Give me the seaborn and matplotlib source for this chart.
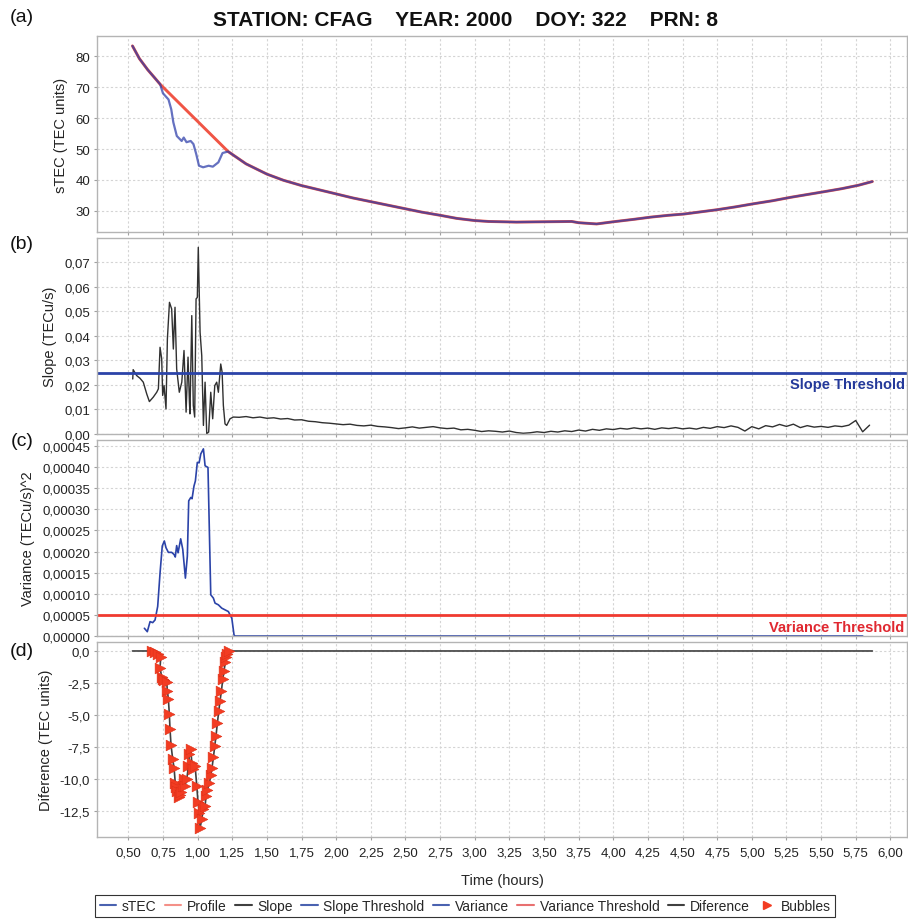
import matplotlib
matplotlib.use('Agg')
import matplotlib.pyplot as plt
import matplotlib.transforms as mtransforms
from matplotlib.lines import Line2D
from matplotlib.ticker import FuncFormatter, MultipleLocator
import numpy as np
import seaborn as sns

# ---- data ----
STEC_T = [0.53, 0.58, 0.64, 0.69, 0.73, 0.75, 0.79, 0.81, 0.825, 0.85, 0.885, 0.90,
          0.92, 0.95, 0.97, 0.99, 1.01, 1.04, 1.08, 1.11, 1.15, 1.18, 1.22, 1.35,
          1.50, 1.62, 1.75, 1.88, 2.00, 2.12, 2.25, 2.38, 2.50, 2.62, 2.75, 2.87,
          3.00, 3.10, 3.30, 3.50, 3.70, 3.75, 3.88, 4.00, 4.15, 4.27, 4.40, 4.51,
          4.63, 4.75, 4.88, 5.01, 5.15, 5.28, 5.40, 5.52, 5.65, 5.77, 5.87]
STEC_V = [83.3, 79.2, 75.6, 73.0, 70.9, 68.0, 66.0, 62.8, 58.6, 54.2, 52.6, 53.7,
          52.2, 52.6, 51.6, 48.4, 44.6, 44.1, 44.6, 44.3, 45.7, 48.7, 49.2, 45.2,
          41.9, 39.9, 38.2, 36.8, 35.5, 34.2, 33.0, 31.8, 30.7, 29.6, 28.6, 27.6,
          26.9, 26.6, 26.4, 26.5, 26.6, 26.2, 25.8, 26.5, 27.3, 28.0, 28.6, 29.0,
          29.7, 30.4, 31.3, 32.3, 33.3, 34.4, 35.3, 36.2, 37.2, 38.3, 39.5]
# profile bridges the bubble between these two times
PROFILE_START, PROFILE_END = 0.73, 1.22

SLOPE_T = [0.532, 0.535, 0.56, 0.584, 0.608, 0.633, 0.652, 0.68, 0.705, 0.717,
           0.729, 0.741, 0.748, 0.758, 0.772, 0.782, 0.797, 0.813, 0.825, 0.837,
           0.849, 0.868, 0.886, 0.902, 0.917, 0.931, 0.941, 0.945, 0.958, 0.969,
           0.979, 0.989, 0.998, 1.005, 1.018, 1.03, 1.042, 1.054, 1.066, 1.08,
           1.095, 1.109, 1.124, 1.138, 1.15, 1.167, 1.177, 1.186, 1.198, 1.21,
           1.234, 1.258]
SLOPE_V = [0.0224, 0.0262, 0.0238, 0.0227, 0.0211, 0.0163, 0.0132, 0.0150, 0.0170, 0.0184,
           0.0353, 0.0306, 0.0157, 0.0197, 0.0102, 0.0387, 0.0536, 0.0509, 0.0346, 0.0516,
           0.0265, 0.0170, 0.0211, 0.0340, 0.0089, 0.0313, 0.0130, 0.0082, 0.0482, 0.0116,
           0.0069, 0.0550, 0.0556, 0.0760, 0.0414, 0.0319, 0.0035, 0.0211, 0.0001, 0.0008,
           0.0170, 0.0062, 0.0197, 0.0211, 0.0170, 0.0285, 0.0252, 0.0116, 0.0041, 0.0035,
           0.0062, 0.0069]
# quiet tail, sampled every 0.05 h from 1.30 h
SLOPE_TAIL_V = [0.0068, 0.0071, 0.0066, 0.0069, 0.0064, 0.0066, 0.0061, 0.0063, 0.0057, 0.0058,
                0.0052, 0.0050, 0.0046, 0.0044, 0.0041, 0.0038, 0.0040, 0.0035, 0.0033, 0.0036,
                0.0031, 0.0029, 0.0026, 0.0022, 0.0025, 0.0029, 0.0024, 0.0027, 0.0030, 0.0025,
                0.0022, 0.0024, 0.0017, 0.0019, 0.0015, 0.0010, 0.0013, 0.0011, 0.0008, 0.0012,
                0.0006, 0.0003, 0.0005, 0.0009, 0.0006, 0.0011, 0.0008, 0.0013, 0.0010, 0.0016,
                0.0012, 0.0019, 0.0015, 0.0021, 0.0018, 0.0023, 0.0020, 0.0025, 0.0021, 0.0024,
                0.0019, 0.0025, 0.0022, 0.0026, 0.0021, 0.0024, 0.0020, 0.0027, 0.0023, 0.0030,
                0.0026, 0.0033, 0.0027, 0.0012, 0.0030, 0.0021, 0.0034, 0.0029, 0.0039, 0.0031,
                0.0040, 0.0026, 0.0034, 0.0028, 0.0031, 0.0027, 0.0033, 0.0030, 0.0036, 0.0055,
                0.0009, 0.0036]
SLOPE_THRESHOLD = 0.025

VAR_T = [0.616, 0.637, 0.657, 0.676, 0.693, 0.712, 0.729, 0.745, 0.76, 0.772, 0.789,
         0.813, 0.83, 0.839, 0.849, 0.859, 0.878, 0.893, 0.912, 0.926, 0.936, 0.951,
         0.96, 0.974, 0.984, 0.998, 1.011, 1.023, 1.042, 1.054, 1.075, 1.095, 1.114,
         1.126, 1.15, 1.174, 1.198, 1.222, 1.247, 1.263, 1.27, 5.80]
VAR_V = [0.0000183, 0.0000102, 0.000034, 0.0000317, 0.000038, 0.00007, 0.000149, 0.000213,
         0.000225, 0.000209, 0.000198, 0.000198, 0.000193, 0.000187, 0.000214, 0.000197,
         0.00023, 0.000205, 0.000137, 0.000189, 0.00032, 0.000328, 0.000325, 0.000355,
         0.000367, 0.000411, 0.00041, 0.000431, 0.000443, 0.000403, 0.000399, 0.0000976,
         0.0000897, 0.0000778, 0.0000738, 0.000066, 0.0000619, 0.0000579, 0.000042,
         0.0000024, 0.0, 0.0]
VAR_THRESHOLD = 0.00005

BUB_T = [0.669, 0.693, 0.717, 0.734, 0.729, 0.741, 0.750, 0.758, 0.777, 0.782, 0.789,
         0.796, 0.801, 0.808, 0.820, 0.830, 0.839, 0.846, 0.854, 0.864, 0.870, 0.878,
         0.893, 0.902, 0.909, 0.922, 0.934, 0.941, 0.951, 0.958, 0.970, 0.982, 0.994,
         1.003, 1.013, 1.018, 1.030, 1.042, 1.054, 1.061, 1.071, 1.085, 1.095, 1.104,
         1.114, 1.124, 1.133, 1.143, 1.153, 1.162, 1.172, 1.182, 1.191, 1.200, 1.208,
         1.215, 1.229]
BUB_V = [0.0, -0.05, -0.23, -0.5, -1.3, -2.05, -2.2, -2.3, -2.45, -3.1, -3.75,
         -4.9, -6.1, -7.3, -8.4, -9.1, -10.3, -10.6, -10.9, -11.4, -11.2, -11.0,
         -10.5, -10.0, -10.5, -10.0, -8.96, -8.05, -7.65, -8.7, -9.2, -8.96, -10.5,
         -11.8, -12.6, -13.8, -13.1, -12.3, -12.1, -11.3, -10.8, -10.3, -9.7, -9.1,
         -8.3, -7.4, -6.6, -5.6, -4.66, -3.88, -3.1, -2.19, -1.54, -0.89, -0.5,
         -0.23, 0.0]
DIFF_START, DIFF_END = 0.53, 5.87

TITLE = 'STATION: CFAG    YEAR: 2000    DOY: 322    PRN: 8'

BLUE = '#2b43a8'
RED = '#f03a30'
DARK = '#303030'

sns.set_theme(style='whitegrid')
plt.rcParams['font.family'] = ['Liberation Sans', 'DejaVu Sans']

fig = plt.figure(figsize=(9.08, 9.2), dpi=100)
W, H = 908.0, 920.0


def add_panel(top, bottom):
    return fig.add_axes([97 / W, 1 - bottom / H, 810 / W, (bottom - top) / H])


ax_a = add_panel(37, 233)
ax_b = add_panel(239, 435)
ax_c = add_panel(441, 637)
ax_d = add_panel(643, 838)
axes = [ax_a, ax_b, ax_c, ax_d]

# (a) sTEC and profile
stec_t = np.array(STEC_T)
stec_v = np.array(STEC_V)
keep = (stec_t <= PROFILE_START) | (stec_t >= PROFILE_END)
sns.lineplot(x=stec_t[keep], y=stec_v[keep], ax=ax_a, color='#f05545', linewidth=2.1,
             estimator=None, sort=False)
sns.lineplot(x=stec_t, y=stec_v, ax=ax_a, color='#2a3aa8', linewidth=1.6, alpha=0.72,
             estimator=None, sort=False)
ax_a.set_ylim(23.2, 86.5)
ax_a.yaxis.set_major_locator(MultipleLocator(10))
ax_a.set_ylabel('sTEC (TEC units)')

# (b) slope
tail_t = np.round(1.30 + 0.05 * np.arange(len(SLOPE_TAIL_V)), 2)
slope_t = np.concatenate([SLOPE_T, tail_t])
slope_v = np.concatenate([SLOPE_V, SLOPE_TAIL_V])
sns.lineplot(x=slope_t, y=slope_v, ax=ax_b, color=DARK, linewidth=1.0,
             estimator=None, sort=False)
ax_b.axhline(SLOPE_THRESHOLD, color=BLUE, linewidth=2.0)
ax_b.text(0.997, SLOPE_THRESHOLD - 0.0047, 'Slope Threshold', color='#24399a',
          fontweight='bold', fontsize=10.5, ha='right', va='center',
          transform=mtransforms.blended_transform_factory(ax_b.transAxes, ax_b.transData))
ax_b.set_ylim(0, 0.0798)
ax_b.yaxis.set_major_locator(MultipleLocator(0.01))
ax_b.yaxis.set_major_formatter(FuncFormatter(lambda v, p: f'{v:.2f}'.replace('.', ',')))
ax_b.set_ylabel('Slope (TECu/s)')

# (c) variance
sns.lineplot(x=VAR_T, y=VAR_V, ax=ax_c, color=BLUE, linewidth=1.2,
             estimator=None, sort=False, clip_on=False)
ax_c.axhline(VAR_THRESHOLD, color=RED, linewidth=2.0)
ax_c.text(0.997, VAR_THRESHOLD - 0.0000285, 'Variance Threshold', color='#e02830',
          fontweight='bold', fontsize=10.5, ha='right', va='center',
          transform=mtransforms.blended_transform_factory(ax_c.transAxes, ax_c.transData))
ax_c.set_ylim(0, 0.000464)
ax_c.yaxis.set_major_locator(MultipleLocator(0.00005))
ax_c.yaxis.set_major_formatter(FuncFormatter(lambda v, p: f'{v:.5f}'.replace('.', ',')))
ax_c.set_ylabel('Variance (TECu/s)^2')

# (d) difference and bubbles
diff_t = np.concatenate([[DIFF_START], BUB_T, [DIFF_END]])
diff_v = np.concatenate([[0.0], BUB_V, [0.0]])
sns.lineplot(x=diff_t, y=diff_v, ax=ax_d, color='#404040', linewidth=1.2,
             estimator=None, sort=False)
sns.scatterplot(x=BUB_T, y=BUB_V, ax=ax_d, marker='>', s=60, color='#f23c22',
                edgecolor='#e03018', linewidth=0.4, zorder=5)
ax_d.set_ylim(-14.5, 0.7)
ax_d.yaxis.set_major_locator(MultipleLocator(2.5))
ax_d.yaxis.set_major_formatter(FuncFormatter(lambda v, p: f'{v:.1f}'.replace('.', ',')))
ax_d.set_ylabel('Diference (TEC units)')
ax_d.set_xlabel('Time (hours)', fontsize=10.5, labelpad=10)

for ax in axes:
    ax.set_xlim(0.274, 6.12)
    ax.xaxis.set_major_locator(MultipleLocator(0.25))
    ax.set_facecolor('white')
    ax.grid(True, linestyle=(0, (2, 2)), color='#d4d4d4', linewidth=0.8)
    for s in ax.spines.values():
        s.set_color('#b4b4b4')
        s.set_linewidth(1.0)
    ax.tick_params(axis='both', length=2, width=0.8, color='#a0a0a0', labelsize=9.5,
                   labelcolor='#222222', pad=3, left=True, bottom=True)
    ax.yaxis.label.set_size(10.5)
    ax.yaxis.label.set_color('#222222')
    ax.yaxis.labelpad = 5
    if ax is not ax_d:
        ax.tick_params(axis='x', labelbottom=False)
ax_d.xaxis.set_major_formatter(FuncFormatter(lambda v, p: f'{v:.2f}'.replace('.', ',')))
ax_d.tick_params(axis='x', pad=5)

fig.text(465 / W, 1 - 20 / H, TITLE, ha='center', va='center', fontsize=15,
         fontweight='bold', color='#111111')
for lab, y in [('(a)', 18), ('(b)', 245), ('(c)', 442), ('(d)', 652)]:
    fig.text(22 / W, 1 - y / H, lab, ha='center', va='center', fontsize=14, color='#111111')

handles = [
    Line2D([], [], color='#4a62b0', lw=1.5),
    Line2D([], [], color='#f49088', lw=1.5),
    Line2D([], [], color='#404040', lw=1.5),
    Line2D([], [], color='#4a62b0', lw=1.5),
    Line2D([], [], color='#4a62b0', lw=1.5),
    Line2D([], [], color='#e87070', lw=1.5),
    Line2D([], [], color='#404040', lw=1.5),
    Line2D([], [], color='#f23c22', lw=0, marker='>', markersize=6),
]
labels = ['sTEC', 'Profile', 'Slope', 'Slope Threshold', 'Variance',
          'Variance Threshold', 'Diference', 'Bubbles']
leg = fig.legend(handles, labels, loc='center', bbox_to_anchor=(465 / W, 1 - 907 / H),
                 ncol=8, fontsize=10, frameon=True, fancybox=False, handlelength=1.2,
                 handletextpad=0.4, columnspacing=0.6, borderpad=0.3)
leg.get_frame().set_edgecolor('black')
leg.get_frame().set_linewidth(0.8)

fig.savefig('out.png', dpi=100, facecolor='white')
